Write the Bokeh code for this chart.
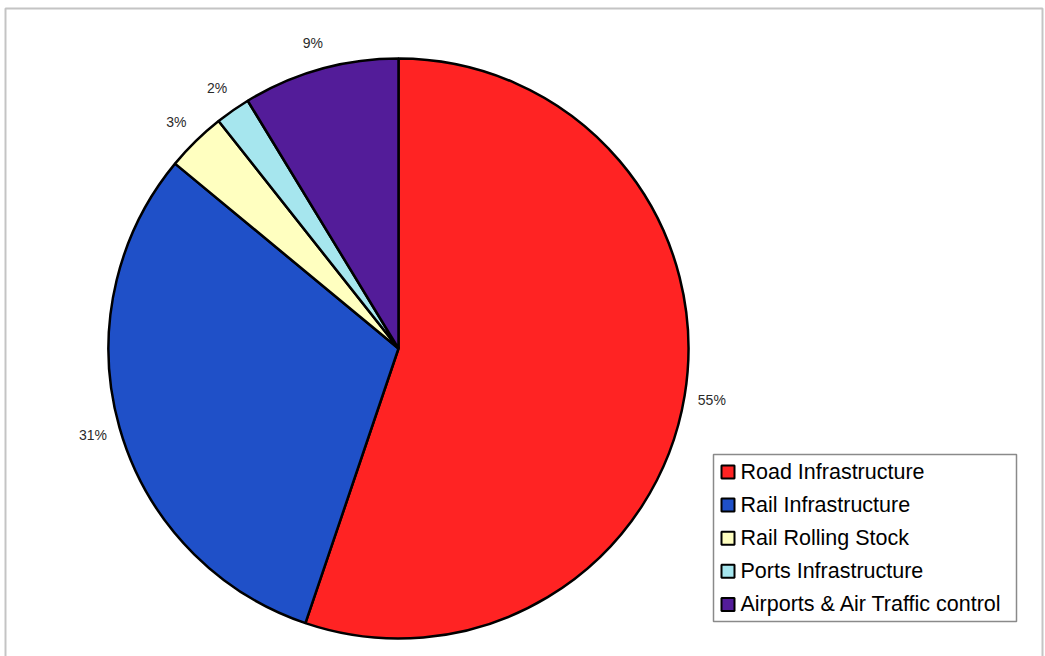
import math
from bokeh.plotting import figure
from bokeh.models import Range1d, ColumnDataSource
from bokeh.core.properties import value
from bokeh.embed import file_html
from bokeh.resources import INLINE

categories = ["Road Infrastructure", "Rail Infrastructure", "Rail Rolling Stock",
              "Ports Infrastructure", "Airports & Air Traffic control"]
shares = [55.2, 30.8, 3.35, 1.95, 8.7]
colors = ["#FF2323", "#1F50C8", "#FFFFC0", "#A6E6EE", "#531C99"]

W, H = 1045, 656
p = figure(width=W, height=H, output_backend="svg", toolbar_location=None,
           x_range=Range1d(0, W), y_range=Range1d(0, H), min_border=0)
p.axis.visible = False
p.grid.visible = False
p.outline_line_color = None
p.background_fill_color = "white"
p.border_fill_color = "white"

# outer chart frame
p.quad(left=[5], right=[1042], bottom=[-20], top=[H - 8], fill_color=None,
       line_color="#C4C4C4", line_width=2)

cx, cy, R = 398, H - 348, 290
total = sum(shares)
starts, ends, lx, ly, labels = [], [], [], [], []
cum = 0.0
for s in shares:
    a0 = cum / total * 2 * math.pi
    cum += s
    a1 = cum / total * 2 * math.pi
    starts.append(math.pi / 2 - a0)
    ends.append(math.pi / 2 - a1)
    mid = (a0 + a1) / 2
    rl = R * 1.095
    lx.append(cx + rl * math.sin(mid))
    ly.append(cy + rl * math.cos(mid))
    labels.append(f"{round(s / total * 100)}%")

src = ColumnDataSource(dict(start=starts, end=ends, color=colors))
p.wedge(x=cx, y=cy, radius=R, start_angle="start", end_angle="end",
        direction="clock", fill_color="color", line_color="black",
        line_width=2.5, source=src)

p.text(x=lx, y=ly, text=labels, text_font=value("Liberation Sans"),
       text_font_size="14px", text_color="#2A2A2A", text_align="center",
       text_baseline="middle")

# legend
lg_left, lg_top, lg_right, lg_bottom = 713, H - 454, 1016, H - 621
p.quad(left=[lg_left], right=[lg_right], bottom=[lg_bottom], top=[lg_top],
       fill_color="white", line_color="#8A8A8A", line_width=1.5)
row_y = [H - (471.5 + 33.1 * i) for i in range(len(categories))]
p.scatter(x=[727.5] * len(categories), y=row_y, marker="square", size=13,
          fill_color=colors, line_color="black", line_width=2)
p.text(x=[740] * len(categories), y=row_y, text=categories,
       text_font=value("Liberation Sans"), text_font_size="21.5px",
       text_color="black", text_align="left", text_baseline="middle")

open("out.html", "w").write(file_html(p, INLINE))
